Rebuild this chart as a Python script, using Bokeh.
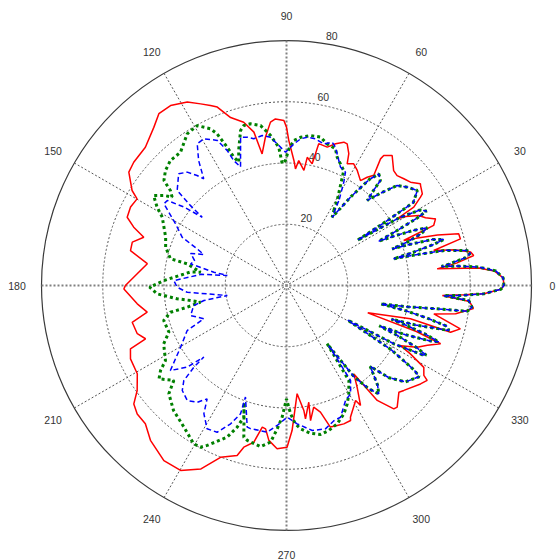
import numpy as np
from bokeh.plotting import figure
from bokeh.core.properties import value
from bokeh.embed import file_html
from bokeh.resources import INLINE

# ---------------- data ----------------
RMAX = 80
ring_values = [20, 40, 60]
spoke_diag = [30, 60, 120, 150]
spoke_axes = [0, 90]
angle_labels = [0, 30, 60, 90, 120, 150, 180, 210, 240, 270, 300, 330]
radial_labels = [20, 40, 60, 80]

# red series (solid), angle in degrees, radius
red_theta = [0, 2, 4, 5.2, 6.3, 7.5, 9.1, 10.3, 12.0, 13.4, 15.0, 16.7, 18.5, 20.0, 21.0,
             22.2, 24.1, 24.4, 26.0, 27.9, 30.0, 31.1, 31.6, 33.4, 34.0, 36.7, 37.2, 39.8,
             42.3, 44.8, 47.0, 50.9, 53.2, 53.4, 51.6, 53.3, 54.8, 58.4, 61.1, 63.5, 64.7,
             66.8, 68.2, 70.9, 73.6, 77.2, 77.6, 78.1, 80.8, 81.4, 84.4, 85.6, 86.6, 89.1,
             90.0, 90.9, 93.8, 95.6, 98.1, 100.5, 102.0, 104.7, 108.4, 111.2, 112.9, 115.3,
             118.4, 122.8, 126.6, 130.0, 135.6, 141.1, 144.3, 148.4, 149.9, 153.3, 156.8,
             159.1, 161.3, 164.3, 167.4, 171.1, 175.5, 180.0, 181.2, 187.0, 190.8, 193.4,
             197.9, 200.7, 202.1, 205.2, 210.6, 215.1, 217.8, 220.7, 224.4, 228.7, 235.0,
             240.2, 245.0, 249.0, 253.8, 255.2, 258.2, 260.3, 261.7, 263.5, 266.7, 270.2,
             272.2, 273.2, 275.6, 277.9, 278.1, 280.8, 280.1, 282.6, 285.0, 287.2, 289.9,
             292.5, 295.4, 295.9, 301.0, 301.7, 304.8, 307.3, 308.3, 311.0, 312.3, 316.5,
             318.2, 323.7, 326.0, 326.8, 329.2, 331.1, 332.2, 334.7, 337.0, 339.3, 340.5,
             341.4, 345.0, 344.1, 346.0, 349.1, 350.5, 353.0, 355.0, 356.3, 357.0, 357.6,
             359.0, 360.0]
red_r = [71.0, 70.8, 68.0, 63.0, 49.5, 56.0, 61.9, 61.1, 56.0, 49.4, 58.8, 58.7, 52.0, 45.0, 41.0,
         51.9, 53.3, 52.8, 50.5, 48.9, 45.0, 42.2, 48.8, 52.4, 53.5, 54.6, 54.9, 52.7,
         51.8, 50.9, 51.3, 54.7, 53.0, 51.5, 45.9, 44.1, 41.9, 44.1, 45.4, 44.4, 47.6,
         50.3, 50.4, 49.0, 47.1, 47.5, 44.0, 40.6, 42.4, 38.0, 41.0, 38.2, 40.9, 47.4,
         51.7, 53.9, 54.5, 53.6, 48.9, 43.7, 51.2, 55.1, 57.8, 62.5, 63.8, 65.6,
         68.1, 69.9, 69.9, 67.4, 64.5, 64.1, 63.4, 59.2, 56.4, 57.0, 56.6,
         53.4, 49.2, 52.3, 52.2, 46.0, 48.9, 52.6, 53.1, 49.1, 46.3, 51.8,
         51.2, 49.2, 55.0, 56.3, 56.6, 59.6, 63.1, 64.3, 64.5, 67.3, 69.8,
         69.6, 66.1, 60.1, 57.8, 54.6, 52.3, 46.9, 47.3, 50.9, 53.4, 52.8,
         47.4, 43.1, 35.5, 41.2, 44.0, 38.8, 44.8, 40.7, 42.8, 48.4, 48.6,
         48.9, 48.8, 47.8, 43.8, 46.0, 40.4, 36.3, 47.8, 53.4, 53.7, 50.6,
         51.4, 54.3, 55.4, 53.6, 52.2, 46.2, 42.1, 47.2, 50.0, 53.8, 45.0,
         28.0, 41.9, 55.7, 58.5, 49.0, 56.0, 61.5, 60.0, 51.0, 58.0, 64.5,
         70.0, 71.0]

# right-hand lobes shared by the blue and green series (angles -55 .. 56)
lobe_theta = [-55.0, -53.5, -51.5, -49.6, -47.5, -44.0, -42.0, -39.0, -34.5, -33.5, -31.5,
              -29.5, -28.5, -27.0, -26.5, -25.5, -24.3, -23.5, -22.5, -21.0, -20.3, -19.3,
              -18.5, -17.8, -17.0, -15.5, -14.3, -13.0, -12.0, -11.0, -10.0, -8.8, -8.1,
              -6.7, -4.7, -4.2, -3.7, -3.3, -2.4, -1.0, 0.0, 2.0, 4.0, 5.5, 6.5, 7.0, 7.5,
              8.8, 10.0, 11.0, 12.5, 13.5, 14.0, 14.6, 15.6, 16.3, 17.5, 18.5, 19.1, 19.8,
              21.0, 22.3, 23.5, 24.8, 25.6, 26.4, 27.3, 28.0, 29.5, 31.0, 32.5, 32.8, 33.2,
              36.0, 39.0, 42.1, 44.5, 46.5, 47.5, 48.2, 50.4, 52.0, 54.0, 56.2]
lobe_r = [24.0, 37.0, 43.0, 46.5, 44.0, 38.0, 45.0, 50.0, 52.6, 50.0, 40.0,
          23.0, 40.0, 50.0, 51.0, 47.0, 40.0, 33.0, 42.0, 51.0, 53.0, 48.0,
          42.0, 36.0, 44.0, 55.0, 54.2, 47.0, 40.0, 31.3, 40.0, 49.8, 59.6,
          61.0, 59.7, 55.0, 51.5, 57.0, 64.5, 70.0, 71.0, 70.8, 68.5, 63.0, 56.0, 51.0, 53.5,
          59.0, 61.0, 60.0, 53.0, 42.0, 36.0, 42.0, 50.0, 53.5, 50.0, 42.0, 36.5, 42.0,
          47.0, 49.7, 45.0, 38.0, 33.4, 40.0, 48.0, 51.8, 50.0, 43.0, 27.4, 40.0, 49.5,
          52.8, 51.0, 48.7, 43.0, 38.3, 42.0, 46.0, 47.3, 44.0, 36.0, 26.8]

# blue series (dashed), remaining part 58 .. 304 degrees
blue_theta = [58.5, 61.0, 62.5, 65.5, 70.5, 72.3, 75.3, 78.8, 82.1, 84.5, 87.0, 90.4, 93.8,
              96.2, 99.2, 102.6, 104.8, 107.2, 111.2, 112.9, 113.7, 115.5, 119.4, 122.2,
              125.1, 127.8, 129.1, 131.2, 134.0, 139.0, 140.2, 141.0, 142.5, 144.5, 146.3,
              150.9, 155.2, 158.0, 159.5, 161.5, 165.0, 167.3, 169.6, 170.4, 172.5, 177.5,
              180.9, 183.9, 189.6, 190.3, 192.2, 197.4, 201.9, 204.4, 210.2, 216.2, 219.4,
              220.9, 221.4, 222.8, 225.2, 229.2, 232.6, 235.0, 237.2, 241.0, 244.7, 248.0,
              250.3, 249.8, 254.5, 255.9, 262.5, 266.2, 270.3, 274.4, 280.1, 285.2, 289.3,
              292.3, 297.2, 300.6, 304.0]
blue_r = [33.0, 38.6, 41.7, 42.5, 47.9, 49.1, 47.8, 48.8, 48.9, 48.1, 46.3, 43.5, 46.4,
          48.7, 49.6, 49.1, 50.1, 50.7, 41.5, 44.3, 48.1, 52.5, 55.0, 54.7,
          49.9, 44.1, 46.3, 49.2, 50.7, 47.3, 41.0, 35.4, 42.0, 47.8, 48.1,
          41.5, 37.5, 31.0, 28.9, 33.0, 31.0, 32.1, 24.1, 19.6, 28.0, 36.8,
          35.7, 32.5, 19.6, 27.4, 31.0, 32.8, 29.1, 35.6, 40.0, 47.0, 42.0,
          35.7, 40.3, 45.7, 48.3, 49.6, 48.0, 45.2, 49.8, 53.5, 53.0, 48.7,
          44.5, 38.8, 48.0, 48.2, 48.3, 45.8, 43.0, 45.3, 48.1, 48.5, 46.8,
          46.5, 42.2, 41.1, 37.4]

# green series (dotted), remaining part 58 .. 305 degrees
green_theta = [57.8, 59.2, 63.5, 68.4, 70.3, 74.0, 77.1, 80.9, 84.6, 87.1, 89.0, 90.5, 92.0,
               93.2, 96.1, 99.2, 102.6, 104.9, 106.5, 109.5, 111.1, 112.3, 113.2, 114.6,
               115.9, 119.2, 123.2, 128.5, 132.9, 136.5, 139.4, 140.7, 142.3, 143.7, 145.9,
               148.8, 151.2, 158.2, 162.4, 167.0, 167.7, 171.2, 172.0, 177.7, 180.7, 183.7,
               186.9, 188.9, 191.0, 192.3, 193.0, 195.9, 201.6, 205.4, 211.8, 214.0, 216.2,
               220.1, 222.6, 227.9, 234.1, 239.6, 242.0, 243.6, 248.6, 250.8, 252.0, 250.1,
               254.3, 255.8, 260.8, 264.2, 266.3, 268.1, 270.0, 271.8, 273.7, 275.6, 279.2,
               282.9, 286.3, 290.1, 294.1, 297.2, 299.9, 303.3, 304.9]
green_r = [29.0, 32.3, 41.9, 45.0, 47.4, 48.1, 49.7, 49.6, 48.6, 47.4, 44.6, 40.8, 39.8,
           45.2, 49.3, 52.9, 54.1, 54.1, 52.8, 46.8, 43.2, 45.3, 49.1, 54.5,
           56.9, 59.8, 59.2, 55.6, 55.7, 54.5, 52.7, 49.0, 47.2, 49.7, 52.4,
           49.4, 46.3, 42.5, 41.4, 38.9, 33.2, 28.4, 31.7, 40.1, 44.7, 42.3,
           36.0, 31.7, 28.6, 33.2, 38.9, 41.7, 41.3, 44.4, 46.5, 49.6, 51.6,
           48.1, 52.2, 55.0, 57.1, 59.9, 59.8, 58.3, 53.2, 49.0, 45.2, 40.6,
           51.5, 52.2, 53.3, 51.4, 46.9, 43.0, 37.0, 41.9, 45.3, 47.0, 48.9,
           49.9, 49.3, 48.1, 45.9, 43.4, 40.8, 37.1, 23.2]

# ---------------- layout ----------------
W, H = 557, 560
SCALE = 245.0 / RMAX          # pixels per radial unit
CX, CY = 286.0, 285.0         # canvas position of the pole
x0, x1 = -CX / SCALE, (W - CX) / SCALE
y0, y1 = -(H - CY) / SCALE, CY / SCALE


def to_xy(theta_deg, r):
    t = np.radians(np.asarray(theta_deg, dtype=float))
    rr = np.asarray(r, dtype=float)
    return rr * np.cos(t), rr * np.sin(t)


p = figure(width=W, height=H, x_range=(x0, x1), y_range=(y0, y1),
           x_axis_type=None, y_axis_type=None, output_backend="svg",
           toolbar_location=None, min_border=0, outline_line_color=None,
           background_fill_color="white", border_fill_color="white")
p.grid.visible = False

# rings
grid_col = "#555555"
p.circle(x=[0] * len(ring_values), y=[0] * len(ring_values), radius=ring_values,
         fill_color=None, line_color=grid_col, line_dash="2 2", line_width=1)
p.circle(x=[0], y=[0], radius=[RMAX], fill_color=None, line_color="#3a3a3a", line_width=1.2)

# spokes
dc = np.cos(np.radians(spoke_diag)); ds = np.sin(np.radians(spoke_diag))
p.segment(x0=-RMAX * dc, y0=-RMAX * ds, x1=RMAX * dc, y1=RMAX * ds,
          line_color=grid_col, line_dash="2 2", line_width=1)
ac = np.cos(np.radians(spoke_axes)); as_ = np.sin(np.radians(spoke_axes))
p.segment(x0=-RMAX * ac, y0=-RMAX * as_, x1=RMAX * ac, y1=RMAX * as_,
          line_color="#808080", line_dash="2 2", line_width=2)

# angle labels (kept inside the canvas)
lab_r = 1.1 * RMAX
lx, ly = to_xy(angle_labels, [lab_r] * len(angle_labels))
lx = np.minimum(lx, x1 - 5.0 / SCALE)
ly = np.maximum(ly, y0 + 6.0 / SCALE)
p.text(x=lx, y=ly, text=[str(a) for a in angle_labels], text_align="center",
       text_baseline="middle", text_font=value("Liberation Sans"),
       text_font_size="10.5px", text_color="#333333")

# radial labels at 82 degrees
rl = np.array(radial_labels, dtype=float) + 1.0
rx, ry = to_xy([82] * len(radial_labels), rl)
p.text(x=rx, y=ry, text=[str(v) for v in radial_labels], x_offset=5,
       text_align="left", text_baseline="bottom", text_font=value("Liberation Sans"),
       text_font_size="10.5px", text_color="#333333")

# data curves
rx_, ry_ = to_xy(red_theta, red_r)
p.line(rx_, ry_, line_color="#ff0000", line_width=1.5)

g_t = green_theta + lobe_theta
g_r = green_r + lobe_r
gx, gy = to_xy(g_t + g_t[:1], g_r + g_r[:1])
p.line(gx, gy, line_color="#008000", line_width=3, line_dash="3 3")

b_t = blue_theta + lobe_theta
b_r = blue_r + lobe_r
bx, by = to_xy(b_t + b_t[:1], b_r + b_r[:1])
p.line(bx, by, line_color="#0000ff", line_width=1.5, line_dash="5 3")

open("out.html", "w").write(file_html(p, INLINE))
